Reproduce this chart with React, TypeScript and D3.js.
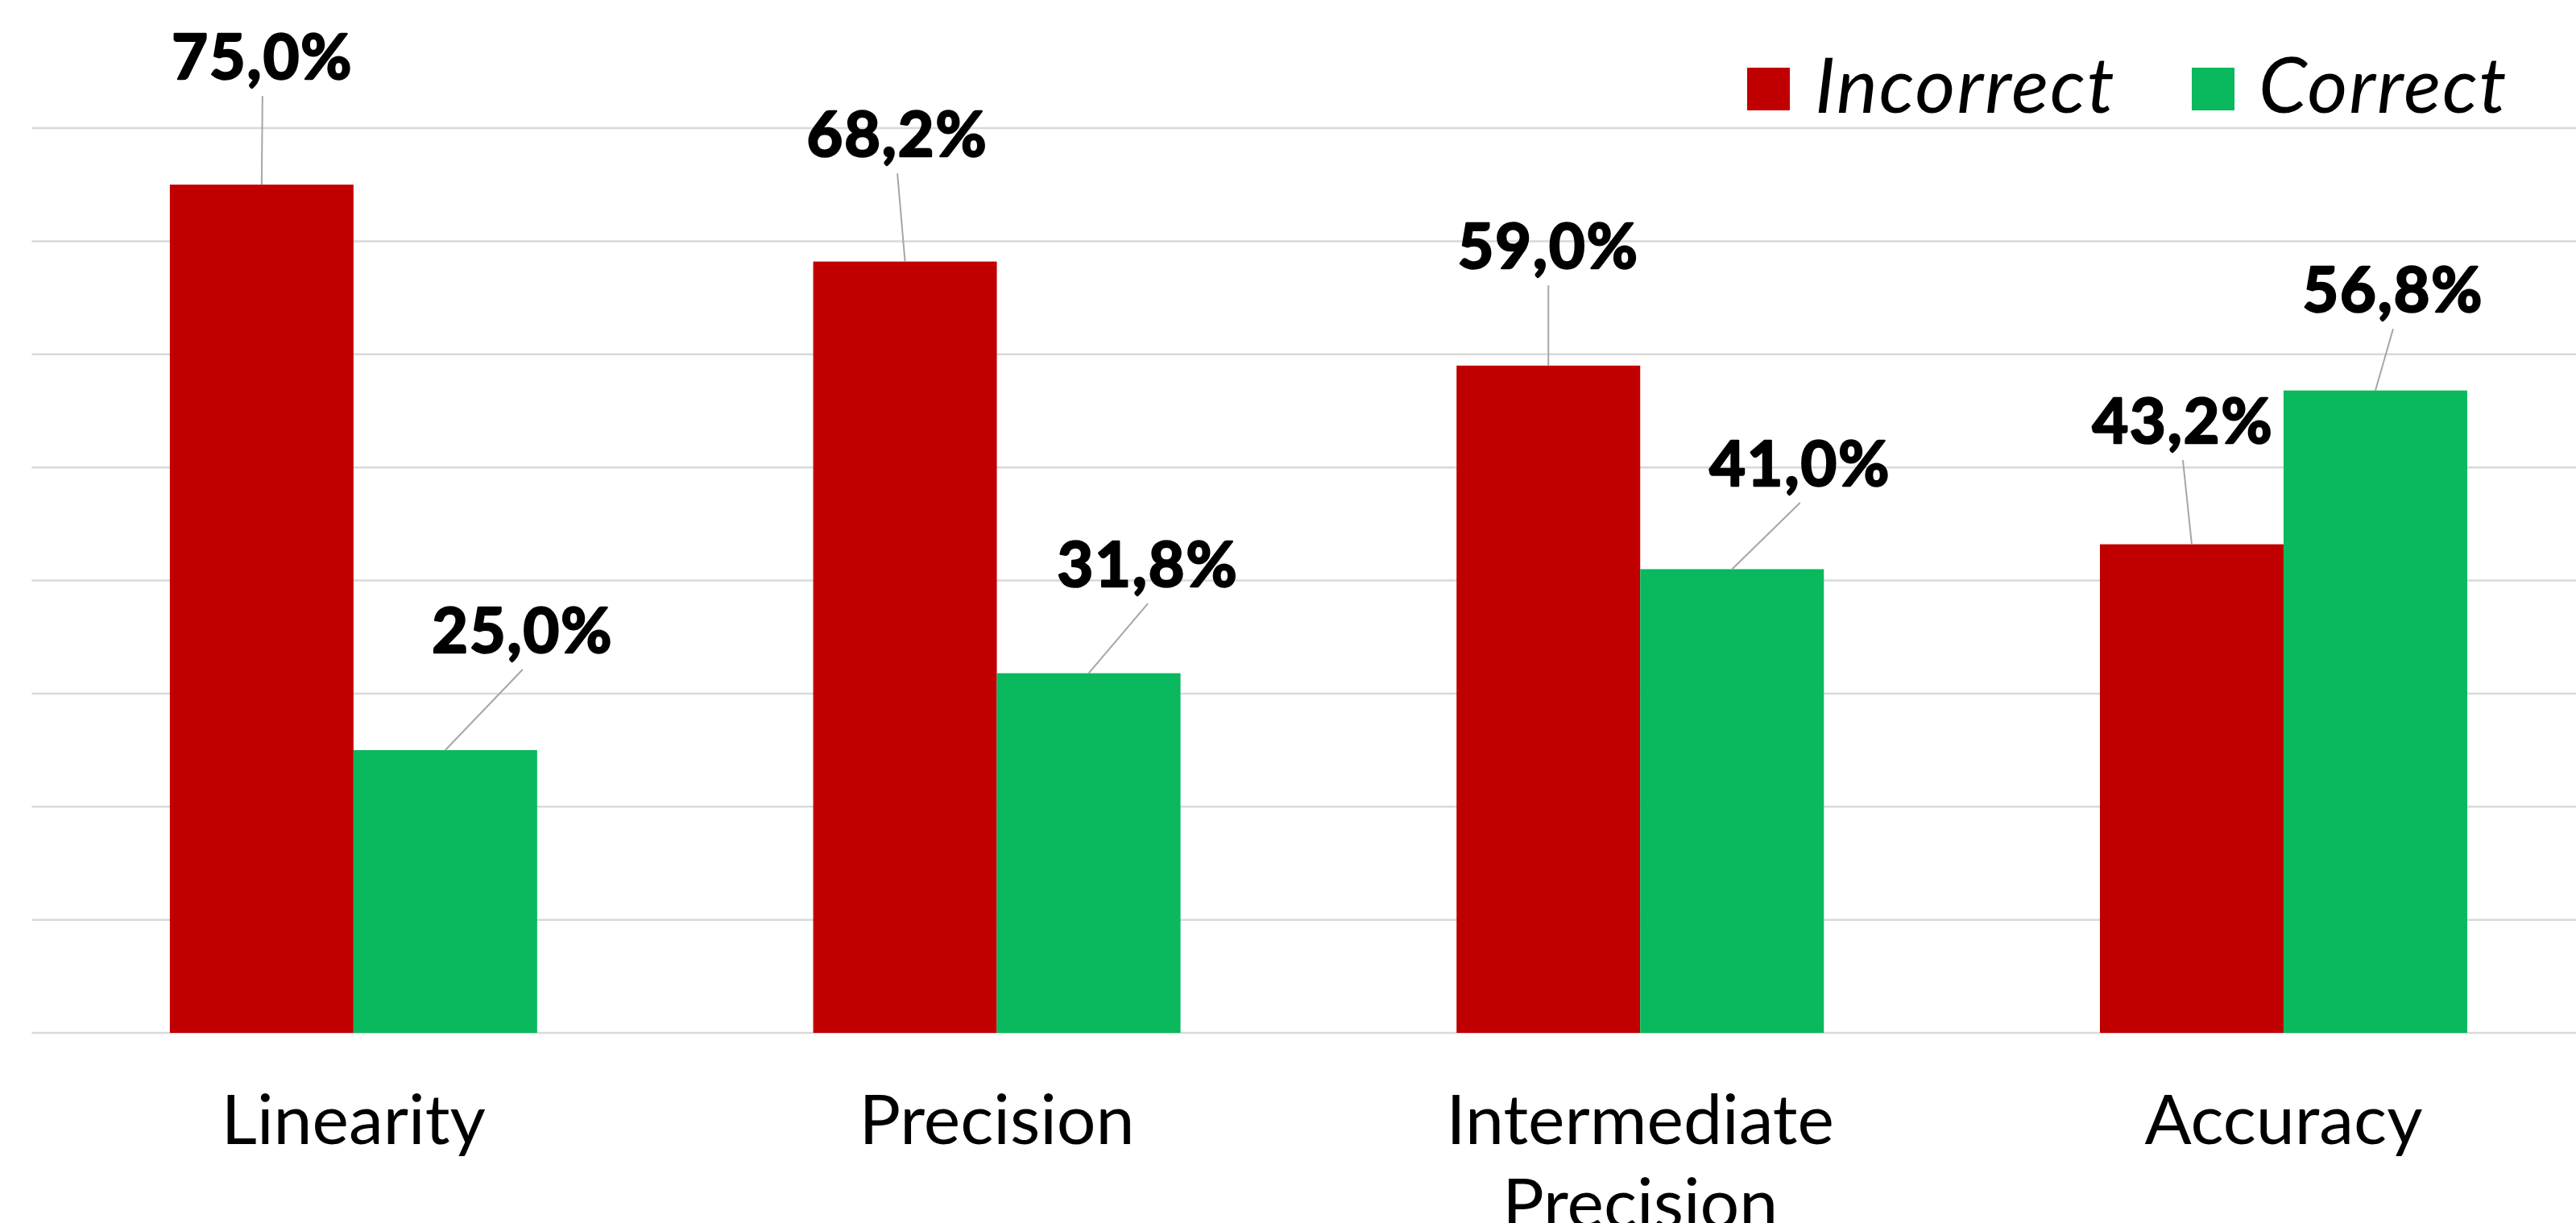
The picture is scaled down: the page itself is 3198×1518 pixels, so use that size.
import React from "react";
import * as d3 from "d3";

// Categories and series values (percent)
const categories = ["Linearity", "Precision", "Intermediate Precision", "Accuracy"];
const seriesNames = ["Incorrect", "Correct"];
const incorrectValues = [75.0, 68.2, 59.0, 43.2];
const correctValues = [25.0, 31.8, 41.0, 56.8];
const gridTicks = [0, 10, 20, 30, 40, 50, 60, 70, 80];

// Manually placed data-label offsets (label centre / baseline relative to bar-top centre)
const incorrectLabelOffsets: [number, number][] = [
  [1, -131],
  [-9.5, -130.5],
  [0, -120.6],
  [-11, -125.5],
];
const correctLabelOffsets: [number, number][] = [
  [96, -121],
  [73.5, -107.5],
  [84.5, -103.4],
  [22, -97.5],
];

const W = 3198;
const H = 1518;
const COLORS: Record<string, string> = { Incorrect: "#C00000", Correct: "#0AB85D" };
const LABEL_FONT = "Lato, 'Open Sans', sans-serif";

const fmt = (v: number) => v.toFixed(1).replace(".", ",") + "%";

export default function App() {
  const x = d3
    .scaleBand<string>()
    .domain(categories)
    .range([39.5, 3234.3])
    .paddingInner(0.4291)
    .paddingOuter(0.4291 / 2);
  const xSeries = d3.scaleBand<string>().domain(seriesNames).range([0, x.bandwidth()]).padding(0);
  const y = d3.scaleLinear().domain([0, 80]).range([1282, 159]);

  const series = [
    { name: "Incorrect", values: incorrectValues, offsets: incorrectLabelOffsets },
    { name: "Correct", values: correctValues, offsets: correctLabelOffsets },
  ];

  return (
    <svg
      width={W}
      height={H}
      viewBox={`0 0 ${W} ${H}`}
      style={{ position: "absolute", left: 0, top: 0, background: "#fff" }}
    >
      <rect x={0} y={0} width={W} height={H} fill="#fff" />
      {/* horizontal gridlines */}
      {gridTicks.map((t) => (
        <line key={t} x1={39.5} x2={W} y1={y(t)} y2={y(t)} stroke="#D9D9D9" strokeWidth={2.5} />
      ))}

      {/* bars */}
      {series.map((s) =>
        categories.map((c, i) => {
          const bx = (x(c) as number) + (xSeries(s.name) as number);
          return (
            <rect
              key={s.name + c}
              x={bx}
              y={y(s.values[i])}
              width={xSeries.bandwidth()}
              height={y(0) - y(s.values[i])}
              fill={COLORS[s.name]}
            />
          );
        })
      )}

      {/* leader lines and data labels */}
      {series.map((s) =>
        categories.map((c, i) => {
          const cx = (x(c) as number) + (xSeries(s.name) as number) + xSeries.bandwidth() / 2;
          const top = y(s.values[i]);
          const [dx, dy] = s.offsets[i];
          const lx = cx + dx;
          const ly = top + dy;
          return (
            <g key={"lbl" + s.name + c}>
              <line x1={lx} y1={ly + 21} x2={cx} y2={top} stroke="#A6A6A6" strokeWidth={2} />
              <text
                x={lx}
                y={ly}
                textAnchor="middle"
                fontFamily={LABEL_FONT}
                fontWeight={700}
                fontSize={77}
                letterSpacing={2}
                fill="#000"
                stroke="#000"
                strokeWidth={2.6}
                strokeLinejoin="round"
              >
                {fmt(s.values[i])}
              </text>
            </g>
          );
        })
      )}

      {/* category axis labels */}
      {categories.map((c) => {
        const cx = (x(c) as number) + x.bandwidth() / 2;
        const words = c.split(" ");
        return (
          <text
            key={"cat" + c}
            x={cx}
            y={1420}
            textAnchor="middle"
            fontFamily={LABEL_FONT}
            fontSize={86}
            fill="#000"
          >
            {words.map((w, k) => (
              <tspan key={k} x={cx} dy={k === 0 ? 0 : 104}>
                {w}
              </tspan>
            ))}
          </text>
        );
      })}

      {/* legend */}
      {[
        { name: "Incorrect", sx: 2169, tx: 2253 },
        { name: "Correct", sx: 2721, tx: 2804 },
      ].map((l) => (
        <g key={"leg" + l.name}>
          <rect x={l.sx} y={84} width={53} height={53} fill={COLORS[l.name]} />
          <text
            x={l.tx}
            y={140}
            fontFamily={LABEL_FONT}
            fontStyle="italic"
            fontSize={96}
            letterSpacing={2}
            fill="#000"
          >
            {l.name}
          </text>
        </g>
      ))}
    </svg>
  );
}
